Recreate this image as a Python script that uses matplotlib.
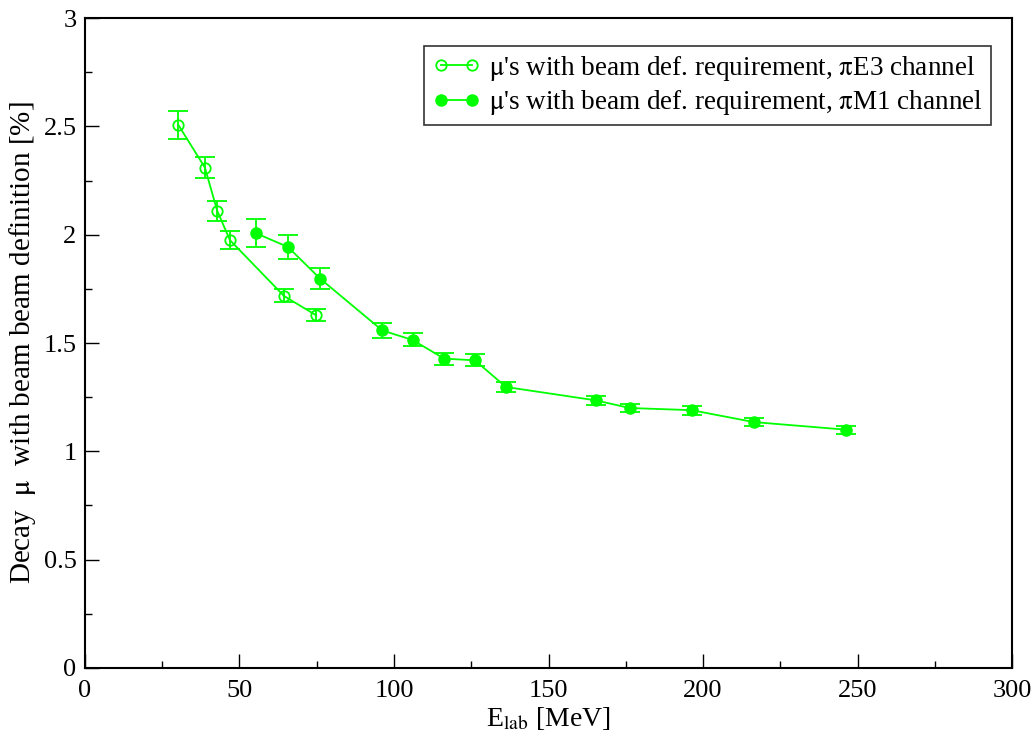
import matplotlib
matplotlib.use("Agg")
import matplotlib.pyplot as plt
from matplotlib.ticker import MultipleLocator, FormatStrFormatter

plt.rcParams['font.family'] = ['Liberation Serif', 'DejaVu Serif']
plt.rcParams['mathtext.fontset'] = 'stix'

# piE3 channel (open circles)
e3_energy = [30.2, 38.8, 42.8, 46.9, 64.4, 74.8]
e3_fraction = [2.507, 2.31, 2.11, 1.975, 1.717, 1.628]
e3_error = [0.065, 0.05, 0.045, 0.04, 0.03, 0.028]

# piM1 channel (filled circles)
m1_energy = [55.3, 65.7, 76.1, 96.2, 106.0, 116.2, 126.2, 136.2, 165.4, 176.2, 196.3, 216.4, 246.2]
m1_fraction = [2.007, 1.943, 1.797, 1.558, 1.514, 1.428, 1.42, 1.297, 1.235, 1.2, 1.19, 1.135, 1.10]
m1_error = [0.065, 0.055, 0.05, 0.035, 0.03, 0.028, 0.028, 0.025, 0.022, 0.02, 0.02, 0.02, 0.018]

labels = [r"$\mathrm{\mu}$'s with beam def. requirement, $\mathrm{\pi}$E3 channel",
          r"$\mathrm{\mu}$'s with beam def. requirement, $\mathrm{\pi}$M1 channel"]

green = '#00ff00'

fig = plt.figure(figsize=(10.36, 7.33), dpi=100)
ax = fig.add_axes([0.082, 0.0887, 0.895, 0.8867])

ax.errorbar(e3_energy, e3_fraction, yerr=e3_error, color=green, marker='o',
            markerfacecolor='none', markeredgecolor=green, markersize=7.5,
            markeredgewidth=1.3, linewidth=1.3, capsize=7, elinewidth=1.3,
            capthick=1.3, label=labels[0])
ax.errorbar(m1_energy, m1_fraction, yerr=m1_error, color=green, marker='o',
            markerfacecolor=green, markeredgecolor=green, markersize=8,
            linewidth=1.3, capsize=7, elinewidth=1.3, capthick=1.3,
            label=labels[1])

ax.set_xlim(0, 300)
ax.set_ylim(0, 3)
ax.xaxis.set_major_locator(MultipleLocator(50))
ax.xaxis.set_minor_locator(MultipleLocator(25))
ax.yaxis.set_major_locator(MultipleLocator(0.5))
ax.yaxis.set_minor_locator(MultipleLocator(0.25))
ax.yaxis.set_major_formatter(FormatStrFormatter('%g'))
ax.tick_params(which='both', direction='in', top=False, right=False, labelsize=19)
ax.tick_params(which='major', length=10, width=1)
ax.tick_params(axis='x', which='major', pad=9)
ax.tick_params(axis='y', which='major', pad=6)
ax.tick_params(which='minor', length=5, width=1)
for s in ax.spines.values():
    s.set_linewidth(1.5)

ax.set_xlabel(r"E$_{\mathrm{lab}}$ [MeV]", fontsize=20, labelpad=2)
ax.set_ylabel(r"Decay  $\mathrm{\mu}$  with beam beam definition [%]", fontsize=21, labelpad=4)

handles, lbls = ax.get_legend_handles_labels()
leg = ax.legend([h[0] for h in handles], lbls, loc='upper right', fontsize=19.5,
                frameon=True, fancybox=False, edgecolor='black', handlelength=1.75,
                handletextpad=0.35, borderpad=0.3, labelspacing=0.2, numpoints=2,
                borderaxespad=0, bbox_to_anchor=(0.9775, 0.9575))
leg.get_frame().set_linewidth(1.2)

fig.savefig('out.png', dpi=100)
